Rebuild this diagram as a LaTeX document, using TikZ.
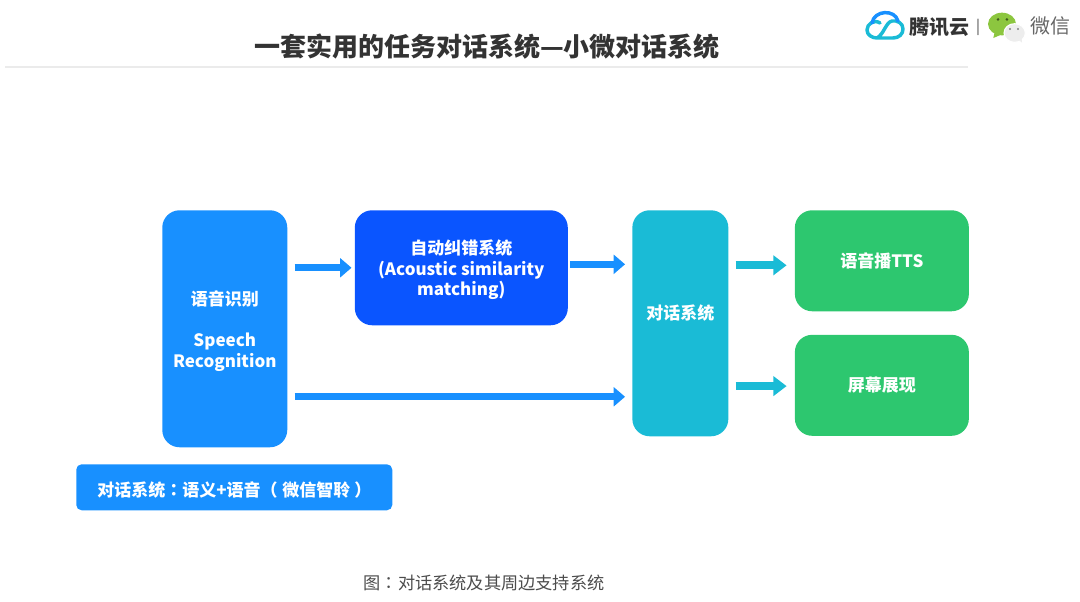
\documentclass[tikz,border=0pt]{standalone}
\usepackage{fontspec}
\setmainfont{Noto Sans CJK SC}
\newfontfamily\cjktc{Noto Sans CJK TC}
\usetikzlibrary{arrows.meta, positioning, calc}
\definecolor{asrblue}{HTML}{1890FF}
\definecolor{fixblue}{HTML}{0A55FF}
\definecolor{dlgteal}{HTML}{1ABBD6}
\definecolor{ttsgreen}{HTML}{2DC76F}
\definecolor{wxgreen}{HTML}{8CC63F}
\newcommand{\colonmark}{{\cjktc ：}}
\newcommand{\firstline}{\rule{0pt}{14.5pt}}

\begin{document}
\begin{tikzpicture}[
    flowbox/.style={rounded corners=13pt, inner sep=0pt, align=center, text=white, font=\fontsize{12.75pt}{15.4pt}\selectfont\bfseries},
    bluearrow/.style={-{Triangle[length=8.5pt, width=14pt]}, line width=5pt, draw=asrblue},
    tealarrow/.style={-{Triangle[length=10pt, width=14.5pt]}, line width=6pt, draw=dlgteal},
    logotext/.style={inner sep=0pt, font=\fontsize{15pt}{15pt}\selectfont},
]
    \useasboundingbox (0,0) rectangle (810pt,-450.75pt);

    \node[inner sep=0pt, font=\fontsize{19.5pt}{20pt}\selectfont\bfseries, text=black!80] (title) at (365.25pt,-35.25pt) {一套实用的任务对话系统—小微对话系统};
    \coordinate (ruleL) at (3.75pt,-50.25pt);
    \coordinate (ruleR) at (726pt,-50.25pt);
    \draw[black!8, line width=0.8pt] (ruleL) -- (ruleR);

    % logos
    \begin{scope}[x=0.75pt, y=-0.75pt, line width=2.6pt, line cap=round, line join=round]
        \draw[dlgteal] (880,23) .. controls (874,19) and (867,24) .. (867,30) .. controls (867,35) and (872,38) .. (877,38) -- (893,38) .. controls (899,38) and (903,34) .. (903,29) .. controls (903,23) and (897,20) .. (892,21) .. controls (886,22) and (884,34) .. (877,38);
        \draw[asrblue] (872,23) .. controls (874,10) and (895,9) .. (898,21);
    \end{scope}
    \node[logotext, font=\fontsize{15pt}{15pt}\selectfont\bfseries, text=black!80] (tencent) at (704.25pt,-20.25pt) {腾讯云};
    \node[logotext, font=\fontsize{11pt}{11pt}\selectfont, text=black!75] (sep) at (733.5pt,-20.25pt) {|};
    \fill[wxgreen] (751.5pt,-18pt) ellipse (10.5pt and 8.5pt);
    \fill[wxgreen] (746pt,-24pt) -- (745pt,-28.5pt) -- (752pt,-25.5pt) -- cycle;
    \fill[black!55!wxgreen] (748.5pt,-14.6pt) circle (1.1pt) (755.2pt,-14.6pt) circle (1.1pt);
    \filldraw[draw=white, fill=black!7, line width=0.8pt] (761pt,-24.75pt) ellipse (8pt and 7pt);
    \fill[black!7] (763pt,-29pt) -- (766.5pt,-32pt) -- (766pt,-27pt) -- cycle;
    \fill[black!50] (757.5pt,-21.75pt) circle (0.8pt) (763.5pt,-21.75pt) circle (0.8pt);
    \node[logotext, text=black!60] (wechat) at (787.5pt,-19.5pt) {微信};

    % main boxes
    \node[flowbox, fill=asrblue, minimum width=93.75pt, minimum height=177.75pt, anchor=north west] (asr) at (121.5pt,-157.5pt) {\firstline 语音识别\\[15.4pt]Speech\\Recognition};
    \node[flowbox, fill=fixblue, minimum width=159.75pt, minimum height=86.25pt, right=50.25pt of asr.north east, anchor=north west] (fix) {\firstline 自动纠错系统\\(Acoustic similarity\\matching)};
    \node[flowbox, fill=dlgteal, minimum width=72pt, minimum height=169.5pt, right=48pt of fix.north east, anchor=north west] (dlg) {\rule[-17pt]{0pt}{12pt}对话系统};
    \node[flowbox, fill=ttsgreen, minimum width=130.5pt, minimum height=75.75pt, right=49.5pt of dlg.north east, anchor=north west] (tts) {语音播TTS};
    \node[flowbox, fill=ttsgreen, minimum width=130.5pt, minimum height=75.75pt, below=17.25pt of tts] (scr) {屏幕展现};
    \node[flowbox, rounded corners=4pt, fill=asrblue, minimum width=237pt, minimum height=34.5pt, anchor=north west] (note) at (57pt,-348pt) {\firstline 对话系统\colonmark 语义+语音（\hspace{3.5pt}微信智聆\hspace{3pt}）};

    % arrows
    \draw[bluearrow, shorten <=5.25pt, shorten >=2.25pt] (asr.east |- fix.west) -- (fix.west);
    \draw[bluearrow, shorten <=1.5pt, shorten >=5.25pt] ([yshift=2.6pt]fix.east) -- ([yshift=2.6pt]fix.east -| dlg.west);
    \draw[bluearrow, shorten <=5.25pt, shorten >=5.25pt] ([yshift=-8.6pt]asr.east |- scr.west) -- ([yshift=-8.6pt]dlg.west |- scr.west);
    \draw[tealarrow, shorten <=5.25pt, shorten >=6pt] ([yshift=-3.4pt]dlg.east |- tts.west) -- ([yshift=-3.4pt]tts.west);
    \draw[tealarrow, shorten <=5.25pt, shorten >=6pt] ([yshift=-0.6pt]dlg.east |- scr.west) -- ([yshift=-0.6pt]scr.west);

    \node[inner sep=0pt, font=\fontsize{12.9pt}{14pt}\selectfont, text=black!70] (caption) at (363pt,-437.25pt) {图\colonmark 对话系统及其周边支持系统};
\end{tikzpicture}
\end{document}
